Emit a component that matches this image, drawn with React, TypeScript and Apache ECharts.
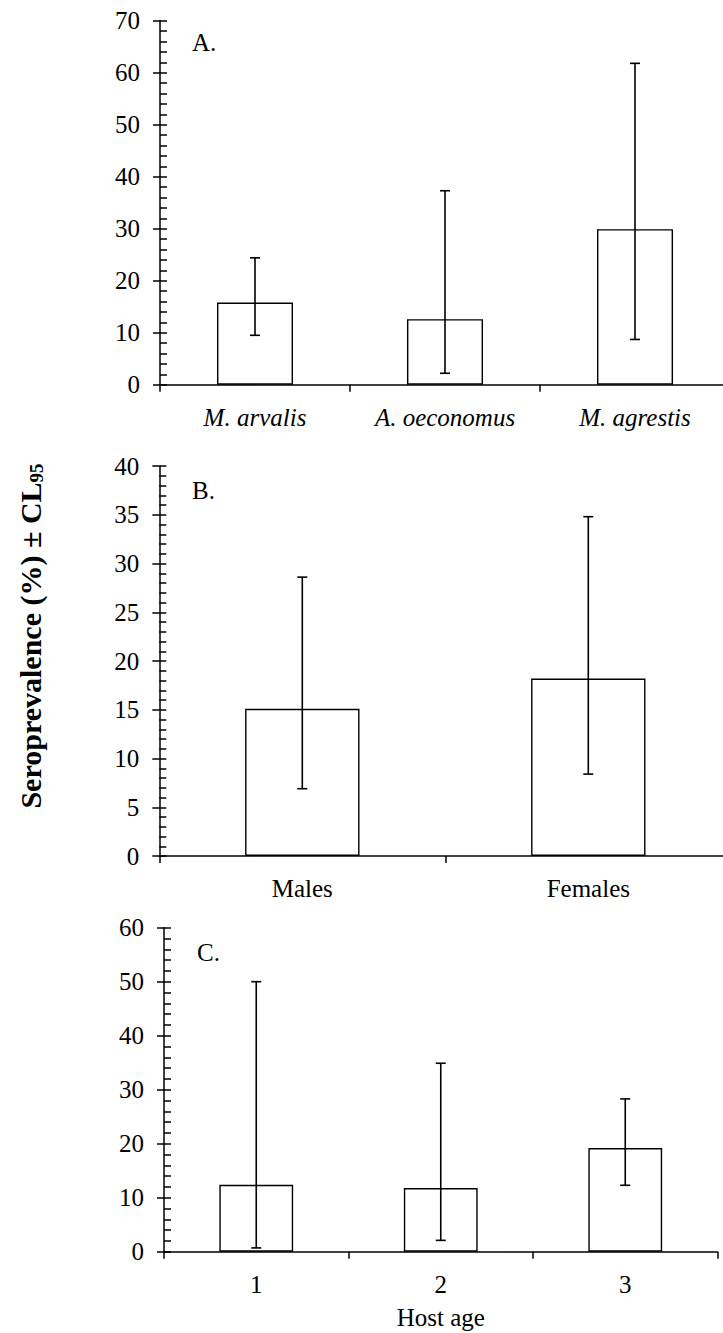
import React, { useEffect, useRef } from 'react';
import * as echarts from 'echarts';

// Panel A: host species
const speciesCats = ['M. arvalis', 'A. oeconomus', 'M. agrestis'];
const speciesVals = [15.8, 12.6, 29.9];
const speciesLow = [9.5, 2.2, 8.7];
const speciesHigh = [24.4, 37.3, 61.8];
const speciesAxis = [0, 70, 10]; // min, max, interval

// Panel B: host sex
const sexCats = ['Males', 'Females'];
const sexVals = [15.1, 18.2];
const sexLow = [6.9, 8.4];
const sexHigh = [28.6, 34.8];
const sexAxis = [0, 40, 5];

// Panel C: host age
const ageCats = ['1', '2', '3'];
const ageVals = [12.4, 11.8, 19.2];
const ageLow = [0.7, 2.1, 12.3];
const ageHigh = [50.0, 34.9, 28.3];
const ageAxis = [0, 60, 10];

const panelLetters = ['A.', 'B.', 'C.'];
const yTitle = 'Seroprevalence (%) ± CL';
const yTitleSub = '95';
const xTitleC = 'Host age';

const FONT = 'Liberation Serif';
const FS = 25;

const panels = [
  { cats: speciesCats, vals: speciesVals, low: speciesLow, high: speciesHigh, axis: speciesAxis, italic: true,
    grid: { left: 160, top: 20.7, width: 570, height: 364 }, letter: { x: 192, y: 42 }, xName: '' },
  { cats: sexCats, vals: sexVals, low: sexLow, high: sexHigh, axis: sexAxis, italic: false,
    grid: { left: 159.3, top: 466, width: 572, height: 390 }, letter: { x: 192, y: 490 }, xName: '' },
  { cats: ageCats, vals: ageVals, low: ageLow, high: ageHigh, axis: ageAxis, italic: false,
    grid: { left: 164, top: 927.7, width: 553.5, height: 324 }, letter: { x: 197, y: 952 }, xName: xTitleC },
];

const errRender = (params: any, api: any) => {
  const x = api.value(0);
  const lo = api.coord([x, api.value(1)]);
  const hi = api.coord([x, api.value(2)]);
  const hw = 5;
  const style = { stroke: '#000', lineWidth: 1.6 };
  return {
    type: 'group',
    children: [
      { type: 'line', shape: { x1: lo[0], y1: lo[1], x2: hi[0], y2: hi[1] }, style },
      { type: 'line', shape: { x1: hi[0] - hw, y1: hi[1], x2: hi[0] + hw, y2: hi[1] }, style },
      { type: 'line', shape: { x1: lo[0] - hw, y1: lo[1], x2: lo[0] + hw, y2: lo[1] }, style },
    ],
  };
};

export default function App() {
  const ref = useRef<HTMLDivElement>(null);
  useEffect(() => {
    document.body.style.margin = '0';
    if (!ref.current) return;
    const chart = echarts.init(ref.current, null, { renderer: 'svg' });
    const grid: any[] = [];
    const xAxis: any[] = [];
    const yAxis: any[] = [];
    const series: any[] = [];
    const graphic: any[] = [];
    panels.forEach((p, i) => {
      const g = { ...p.grid, outerBoundsMode: 'none', containLabel: false };
      grid.push(g);
      grid.push({ ...g });
      const gi = i * 2;
      xAxis.push({
        type: 'category', gridIndex: gi, data: p.cats,
        axisLine: { lineStyle: { color: '#000', width: 1.5 } },
        axisTick: { show: true, length: 7, lineStyle: { color: '#000', width: 1.5 } },
        axisLabel: { color: '#000', fontSize: FS, fontFamily: FONT, margin: 20, fontStyle: p.italic ? 'italic' : 'normal', interval: 0 },
        splitLine: { show: false },
        name: p.xName, nameLocation: 'middle', nameGap: 53,
        nameTextStyle: { color: '#000', fontSize: FS, fontFamily: FONT },
      });
      xAxis.push({ type: 'category', gridIndex: gi + 1, data: p.cats, show: false });
      const [mn, mx, step] = p.axis;
      yAxis.push({
        type: 'value', gridIndex: gi, min: mn, max: mx, interval: step,
        axisLine: { show: true, lineStyle: { color: '#000', width: 1.5 } },
        axisTick: { show: true, inside: true, length: 7, lineStyle: { color: '#000', width: 1.5 } },
        minorTick: { show: true, splitNumber: 5, length: 7, lineStyle: { color: '#000', width: 1.5 } },
        axisLabel: { color: '#000', fontSize: FS, fontFamily: FONT, margin: 20 },
        splitLine: { show: false },
      });
      yAxis.push({
        type: 'value', gridIndex: gi + 1, min: mn, max: mx, interval: step,
        axisLine: { show: false },
        axisTick: { show: true, inside: false, length: 7, lineStyle: { color: '#000', width: 1.5 } },
        axisLabel: { show: false },
        splitLine: { show: false },
      });
      series.push({
        type: 'bar', xAxisIndex: gi, yAxisIndex: gi, data: p.vals, barWidth: '40%',
        itemStyle: { color: '#fff', borderColor: '#000', borderWidth: 1.4 },
        z: 2,
      });
      series.push({
        type: 'custom', xAxisIndex: gi, yAxisIndex: gi,
        data: p.cats.map((_, k) => [k, p.low[k], p.high[k]]),
        encode: { x: 0, y: [1, 2] },
        renderItem: errRender, z: 5,
      });
      graphic.push({
        type: 'text', x: p.letter.x, y: p.letter.y,
        style: { text: panelLetters[i], fill: '#000', fontSize: FS, fontFamily: FONT, textAlign: 'left', textVerticalAlign: 'middle' },
      });
    });
    graphic.push({
      type: 'text', x: 30, y: 636, rotation: Math.PI / 2,
      style: {
        text: '{m|' + yTitle + '}{s|' + yTitleSub + '}',
        textAlign: 'center', textVerticalAlign: 'middle',
        rich: {
          m: { fontSize: 30, fontWeight: 'bold', fontFamily: FONT, fill: '#000', lineHeight: 32, verticalAlign: 'middle' },
          s: { fontSize: 19, fontWeight: 'bold', fontFamily: FONT, fill: '#000', lineHeight: 32, verticalAlign: 'bottom', padding: [10, 0, 0, 0] },
        },
      },
    });
    chart.setOption({
      animation: false,
      backgroundColor: '#fff',
      grid, xAxis, yAxis, series, graphic,
    });
    return () => chart.dispose();
  }, []);
  return <div ref={ref} style={{ width: 723, height: 1333 }} />;
}
